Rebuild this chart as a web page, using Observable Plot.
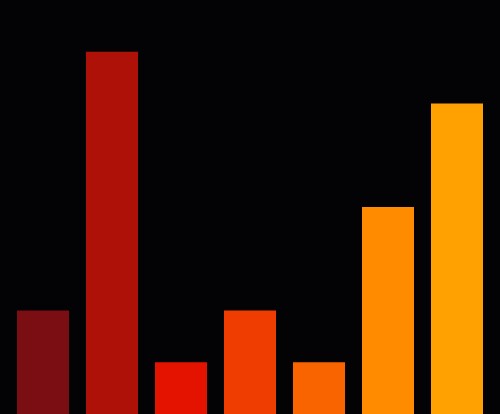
<!DOCTYPE html>
<html>
<head>
<meta charset="utf-8">
<script src="https://cdn.jsdelivr.net/npm/d3@7"></script>
<script src="https://cdn.jsdelivr.net/npm/@observablehq/plot@0.6"></script>
<style>
  html, body { margin: 0; padding: 0; background: #030305; overflow: hidden; }
  svg { display: block; }
</style>
</head>
<body>
<div id="chart"></div>
<script>
const categories = ["A", "B", "C", "D", "E", "F", "G"];
const values = [2, 7, 1, 2, 1, 4, 6];
const colors = ["#7a0e13", "#ad1108", "#e31300", "#ef3c00", "#f96400", "#ff8c00", "#ffa100"];

const data = categories.map((c, i) => ({category: c, value: values[i], color: colors[i]}));

const chart = Plot.plot({
  width: 500,
  height: 414,
  margin: 0,
  style: {background: "#030305"},
  x: {domain: categories, padding: 17 / 69, axis: null},
  y: {domain: [0, 8], axis: null},
  marks: [
    Plot.barY(data, {x: "category", y: "value", fill: "color"})
  ]
});
document.getElementById("chart").appendChild(chart);
</script>
</body>
</html>
